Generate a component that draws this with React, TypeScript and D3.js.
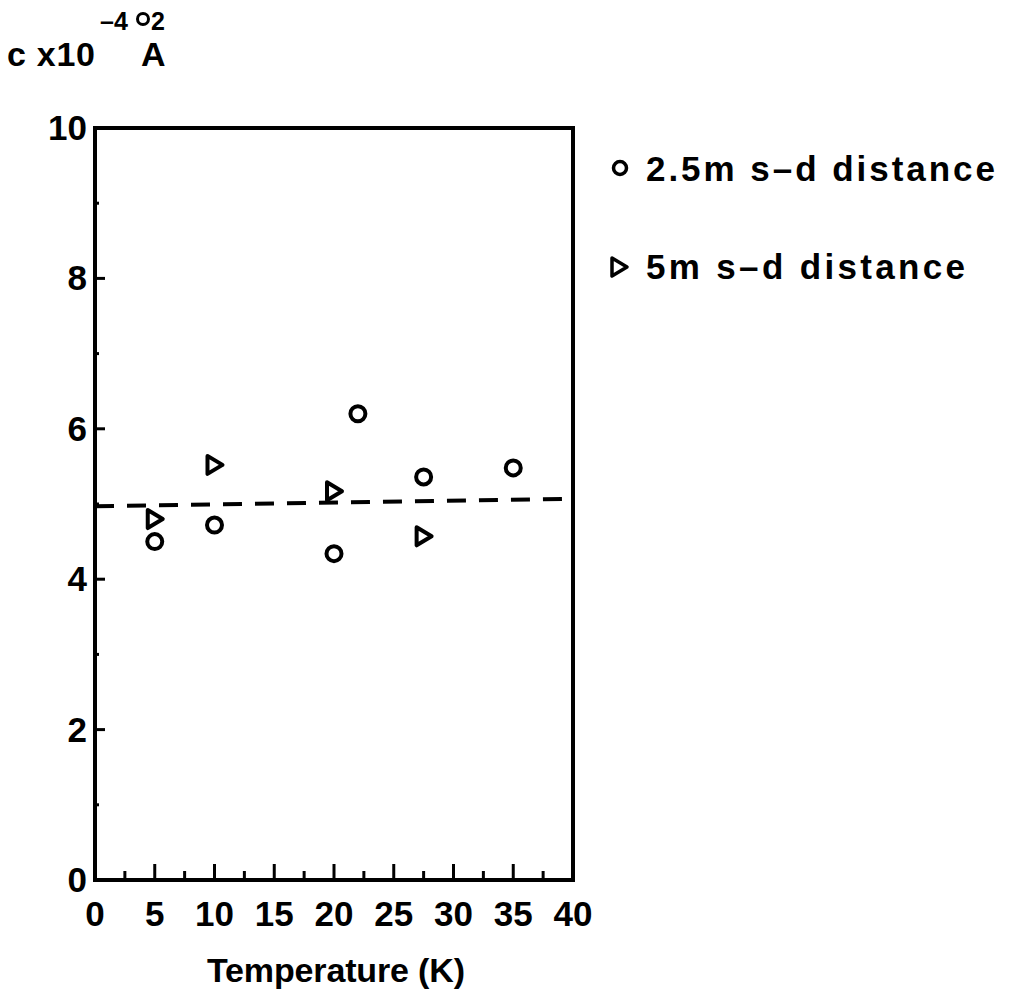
import { scaleLinear, line, range } from "d3";

// 2.5 m source-detector distance
const circleT = [5, 10, 20, 22, 27.5, 35];
const circleC = [4.5, 4.72, 4.34, 6.2, 5.36, 5.48];
// 5 m source-detector distance
const triT = [5, 10, 20, 27.5];
const triC = [4.8, 5.52, 5.17, 4.57];
// dashed fit line end points
const fitT = [0, 40];
const fitC = [4.97, 5.07];

const xTicks = [0, 5, 10, 15, 20, 25, 30, 35, 40];
const yTicks = [0, 2, 4, 6, 8, 10];
const legendLabels = ["2.5m s\u2013d distance", "5m s\u2013d distance"];

const FONT = "'Liberation Sans', Arial, sans-serif";

export default function App() {
  const left = 95, right = 573, top = 128, bottom = 880;
  const x = scaleLinear().domain([0, 40]).range([left, right]);
  const y = scaleLinear().domain([0, 10]).range([bottom, top]);

  const fit = line<number>()
    .x((d) => x(fitT[d]))
    .y((d) => y(fitC[d]));

  // open triangle pointing right
  const tri = (cx: number, cy: number) =>
    `M${cx - 7},${cy - 9} L${cx + 8},${cy} L${cx - 7},${cy + 9} Z`;

  const minorX = range(2.5, 40, 5);
  const majorX = range(5, 40, 5);
  const minorY = range(1, 10, 2);
  const majorY = range(2, 10, 2);

  return (
    <svg
      width={1016}
      height={1007}
      style={{ position: "absolute", left: 0, top: 0, background: "#fff" }}
      fontFamily={FONT}
      fontWeight="bold"
    >
      {/* y axis title */}
      <text x={7} y={66} fontSize={34} textLength={88} lengthAdjust="spacing">c x10</text>
      <text x={100} y={30} fontSize={25}>{"\u20134"}</text>
      <circle cx={143} cy={19} r={5.5} fill="none" stroke="#000" strokeWidth={3} />
      <text x={151} y={30} fontSize={25}>2</text>
      <text x={141} y={66} fontSize={34}>A</text>

      {/* frame */}
      <rect x={left} y={top} width={right - left} height={bottom - top} fill="none" stroke="#000" strokeWidth={4} />

      {minorX.map((t) => (
        <line key={"mx" + t} x1={x(t)} x2={x(t)} y1={bottom} y2={bottom - 9} stroke="#000" strokeWidth={3} />
      ))}
      {majorX.map((t) => (
        <line key={"Mx" + t} x1={x(t)} x2={x(t)} y1={bottom} y2={bottom - 16} stroke="#000" strokeWidth={3} />
      ))}
      {minorY.map((t) => (
        <line key={"my" + t} x1={left} x2={left + 4} y1={y(t)} y2={y(t)} stroke="#000" strokeWidth={3} />
      ))}
      {majorY.map((t) => (
        <line key={"My" + t} x1={left} x2={left + 10} y1={y(t)} y2={y(t)} stroke="#000" strokeWidth={3} />
      ))}

      {xTicks.map((t) => (
        <text key={"xl" + t} x={x(t)} y={926} fontSize={35} textAnchor="middle">{t}</text>
      ))}
      {yTicks.map((t) => (
        <text key={"yl" + t} x={87} y={y(t) + 12} fontSize={35} textAnchor="end">{t}</text>
      ))}

      <text x={336} y={982} fontSize={34} textAnchor="middle" textLength={258} lengthAdjust="spacing">Temperature (K)</text>

      {/* fit line */}
      <path d={fit([0, 1]) ?? ""} fill="none" stroke="#000" strokeWidth={4} strokeDasharray="19 13" />

      {circleT.map((t, i) => (
        <circle key={"c" + i} cx={x(t)} cy={y(circleC[i])} r={7.5} fill="none" stroke="#000" strokeWidth={4} />
      ))}
      {triT.map((t, i) => (
        <path key={"t" + i} d={tri(x(t), y(triC[i]))} fill="none" stroke="#000" strokeWidth={4} strokeLinejoin="round" />
      ))}

      {/* legend */}
      <circle cx={620} cy={168} r={6.5} fill="none" stroke="#000" strokeWidth={3.5} />
      <text x={646} y={181} fontSize={35} textLength={349} lengthAdjust="spacing">{legendLabels[0]}</text>
      <path d={tri(619, 267)} fill="none" stroke="#000" strokeWidth={3.5} strokeLinejoin="round" />
      <text x={646} y={279} fontSize={35} textLength={319} lengthAdjust="spacing">{legendLabels[1]}</text>
    </svg>
  );
}
